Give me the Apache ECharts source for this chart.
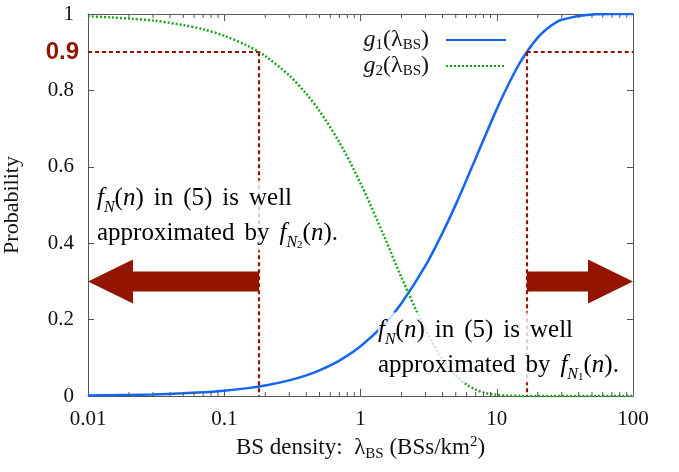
<!DOCTYPE html>
<html><head><meta charset="utf-8">
<script src="https://cdn.jsdelivr.net/npm/echarts@6/dist/echarts.min.js"></script>
<style>html,body{margin:0;padding:0;background:#fff}#c{width:679px;height:472px}</style>
</head><body><div id="c"></div>
<script>
// ---- data ----
const densities = [0.01,0.015,0.02,0.03,0.05,0.07,0.1,0.15,0.2,0.3,0.4,0.5,0.7,1,1.5,2,3,4,5,6,7,8,10,12,15,20,25,30,50,70,100];
const g1Values  = [0.0014,0.0021,0.0028,0.0042,0.0069,0.0097,0.0138,0.0206,0.0274,0.0409,0.0541,0.0671,0.0926,0.130,0.188,0.243,0.341,0.427,0.501,0.566,0.622,0.671,0.751,0.811,0.876,0.938,0.969,0.985,0.999,1.0,1.0];
const g2Values  = [0.994,0.991,0.988,0.983,0.971,0.960,0.943,0.916,0.890,0.839,0.791,0.746,0.664,0.557,0.416,0.310,0.173,0.096,0.054,0.030,0.017,0.009,0.003,0.001,0.0002,0,0,0,0,0,0];
const xTickLabels = ['0.01','0.1','1','10','100'];
const yTickLabels = ['0','0.2','0.4','0.6','0.8','1'];
const xMinorTicks = [0.02,0.03,0.04,0.05,0.06,0.07,0.08,0.09,0.2,0.3,0.4,0.5,0.6,0.7,0.8,0.9,2,3,4,5,6,7,8,9,20,30,40,50,60,70,80,90];
const thresholdProb = 0.9;
const thresholdDensities = [0.18, 16.6];
const arrows = [[0.18, 0.01, 0.3], [16.6, 100, 0.3]]; // [from, to, y]
const annotationPos = [[0.01164, 0.4725], [1.343, 0.127]];
const annotationSub = ['2', '1'];

const RED = '#931500', BLUE = '#1466f0', GREEN = '#1fa31f', AX = '#555';
const SERIF = '"Liberation Serif", "DejaVu Serif", serif';

const chart = echarts.init(document.getElementById('c'), null, {renderer: 'canvas'});

const mathRich = {
  n: {fontFamily: SERIF, fontSize: 24, lineHeight: 26, color: '#111'},
  i: {fontFamily: SERIF, fontSize: 24, lineHeight: 26, fontStyle: 'italic', color: '#111'},
  s: {fontFamily: SERIF, fontSize: 15, lineHeight: 15, verticalAlign: 'bottom', color: '#111'},
  sp: {width: 12}
};

const xAxisCommon = {
  type: 'log', logBase: 10, min: 0.01, max: 100,
  axisLine: {show: true, onZero: false, lineStyle: {color: AX, width: 1}},
  axisTick: {show: true, inside: true, length: 7, lineStyle: {color: AX}},
  splitLine: {show: false}, minorTick: {show: false}
};
const yAxisCommon = {
  type: 'value', min: 0, max: 1, interval: 0.2,
  axisLine: {show: true, onZero: false, lineStyle: {color: AX, width: 1}},
  axisTick: {show: true, inside: true, length: 6, lineStyle: {color: AX}},
  splitLine: {show: false}
};

const gFmt = name => name === 'g1'
  ? '{i|g}{s|1}{n|(λ}{s|BS}{n|)}{sp|}'
  : '{i|g}{s|2}{n|(λ}{s|BS}{n|)}{sp|}';

chart.setOption({
  animation: false,
  backgroundColor: '#fff',
  grid: {left: 88, right: 46, top: 14, bottom: 76, containLabel: false, outerBoundsMode: 'none'},
  legend: {
    data: ['g1', 'g2'], orient: 'vertical', right: 167, top: 22, align: 'right',
    itemWidth: 60, itemHeight: 14, itemGap: 0, selectedMode: false,
    itemStyle: {opacity: 0, borderWidth: 0},
    formatter: gFmt, textStyle: {rich: mathRich, lineHeight: 23}
  },
  xAxis: [
    Object.assign({}, xAxisCommon, {
      position: 'bottom',
      axisLabel: {show: true, margin: 13, fontFamily: SERIF, fontSize: 21, color: '#111',
        formatter: v => { const k = Math.round(Math.log10(v)) + 2; return xTickLabels[k] !== undefined ? xTickLabels[k] : ''; }},
      name: '{n|BS density:  λ}{s|BS}{n| (BSs/km}{sup|2}{n|)}',
      nameLocation: 'middle', nameGap: 23,
      nameTextStyle: {rich: Object.assign({}, mathRich, {
        n: {fontFamily: SERIF, fontSize: 23, lineHeight: 27, color: '#111'},
        s: {fontFamily: SERIF, fontSize: 15, lineHeight: 15, verticalAlign: 'bottom', color: '#111'},
        sup: {fontFamily: SERIF, fontSize: 15, lineHeight: 15, verticalAlign: 'top', color: '#111'}
      })}
    }),
    Object.assign({}, xAxisCommon, {position: 'top', axisLabel: {show: false}})
  ],
  yAxis: [
    Object.assign({}, yAxisCommon, {
      position: 'left',
      axisLabel: {show: true, margin: 14, fontFamily: SERIF, fontSize: 21, color: '#111',
        formatter: v => yTickLabels[Math.round(v * 5)]},
      name: 'Probability', nameLocation: 'middle', nameGap: 65, nameRotate: 90,
      nameTextStyle: {fontFamily: SERIF, fontSize: 22, color: '#111'}
    }),
    Object.assign({}, yAxisCommon, {position: 'right', axisLabel: {show: false}})
  ],
  series: [
    {
      name: 'g1', type: 'line', xAxisIndex: 0, yAxisIndex: 0,
      data: densities.map((x, i) => [x, g1Values[i]]),
      symbol: 'none', smooth: 0.3, z: 3,
      lineStyle: {color: BLUE, width: 2.5}, itemStyle: {color: BLUE},
      markLine: {
        silent: true, symbol: ['none', 'none'], label: {show: false},
        lineStyle: {color: RED, type: [4, 3], width: 2.2},
        data: [
          [{coord: [0.01, thresholdProb]}, {coord: [thresholdDensities[0], thresholdProb]}],
          [{coord: [thresholdDensities[0], thresholdProb]}, {coord: [thresholdDensities[0], 0]}],
          [{coord: [thresholdDensities[1], thresholdProb]}, {coord: [100, thresholdProb]}],
          [{coord: [thresholdDensities[1], thresholdProb]}, {coord: [thresholdDensities[1], 0]}]
        ]
      }
    },
    {
      name: 'g2', type: 'line', xAxisIndex: 0, yAxisIndex: 0,
      data: densities.map((x, i) => [x, g2Values[i]]),
      symbol: 'none', smooth: 0.3, z: 3,
      lineStyle: {color: GREEN, width: 2.5, type: [2, 2]}, itemStyle: {color: GREEN}
    },
    {
      name: 'arrows', type: 'custom', xAxisIndex: 0, yAxisIndex: 0, silent: true, z: 4,
      encode: {x: [0, 1], y: 2},
      data: arrows,
      renderItem: (params, api) => {
        const s = api.coord([api.value(0), api.value(2)]);
        const e = api.coord([api.value(1), api.value(2)]);
        const dir = Math.sign(e[0] - s[0]);
        const headLen = 45, sh = 10, hh = 22;
        const hx = e[0] - dir * headLen;
        return {type: 'polygon', shape: {points: [
          [s[0], s[1] - sh], [hx, s[1] - sh], [hx, s[1] - hh], [e[0], e[1]],
          [hx, s[1] + hh], [hx, s[1] + sh], [s[0], s[1] + sh]
        ]}, style: {fill: RED}};
      }
    },
    {
      name: 'minorTicks', type: 'custom', xAxisIndex: 0, yAxisIndex: 0, silent: true, z: 5,
      encode: {x: 0, y: 1},
      data: xMinorTicks.map(v => [v, 0]),
      renderItem: (params, api) => {
        const b = api.coord([api.value(0), 0]);
        const t = api.coord([api.value(0), 1]);
        const st = {stroke: AX, lineWidth: 1};
        return {type: 'group', children: [
          {type: 'line', shape: {x1: b[0], y1: b[1], x2: b[0], y2: b[1] - 4}, style: st},
          {type: 'line', shape: {x1: t[0], y1: t[1], x2: t[0], y2: t[1] + 4}, style: st}
        ]};
      }
    }
  ]
});

// annotations placed through the axes' scales
const annRich = {
  n: {fontFamily: SERIF, fontSize: 25, lineHeight: 35, color: RED},
  i: {fontFamily: SERIF, fontSize: 25, lineHeight: 35, fontStyle: 'italic', color: RED},
  w: {width: 10, lineHeight: 35},
  s: {fontFamily: SERIF, fontSize: 16, lineHeight: 23, verticalAlign: 'bottom', fontStyle: 'italic', color: RED},
  ss: {fontFamily: SERIF, fontSize: 11, lineHeight: 17, verticalAlign: 'bottom', color: RED}
};
const graphics = annotationPos.map((p, k) => {
  const px = chart.convertToPixel({xAxisIndex: 0, yAxisIndex: 0}, p);
  return {
    type: 'text', x: px[0], y: px[1], z: 100,
    style: {
      text: '{i|f}{s|N}{n|(}{i|n}{n|)}{w|}{n|in}{w|}{n|(5)}{w|}{n|is}{w|}{n|well}\n' +
            '{n|approximated}{w|}{n|by}{w|}{i|f}{s|N}{ss|' + annotationSub[k] + '}{n|(}{i|n}{n|).}',
      rich: annRich, align: 'left', verticalAlign: 'middle',
      backgroundColor: 'rgba(255,255,255,0.78)'
    }
  };
});
const p9 = chart.convertToPixel({xAxisIndex: 0, yAxisIndex: 0}, [0.01, thresholdProb]);
graphics.push({
  type: 'text', x: p9[0] - 9, y: p9[1], z: 100,
  style: {text: String(thresholdProb), fontFamily: '"Liberation Sans", Arial, sans-serif',
    fontWeight: 'bold', fontSize: 24, fill: RED, align: 'right', verticalAlign: 'middle'}
});
chart.setOption({graphic: graphics});
</script></body></html>
